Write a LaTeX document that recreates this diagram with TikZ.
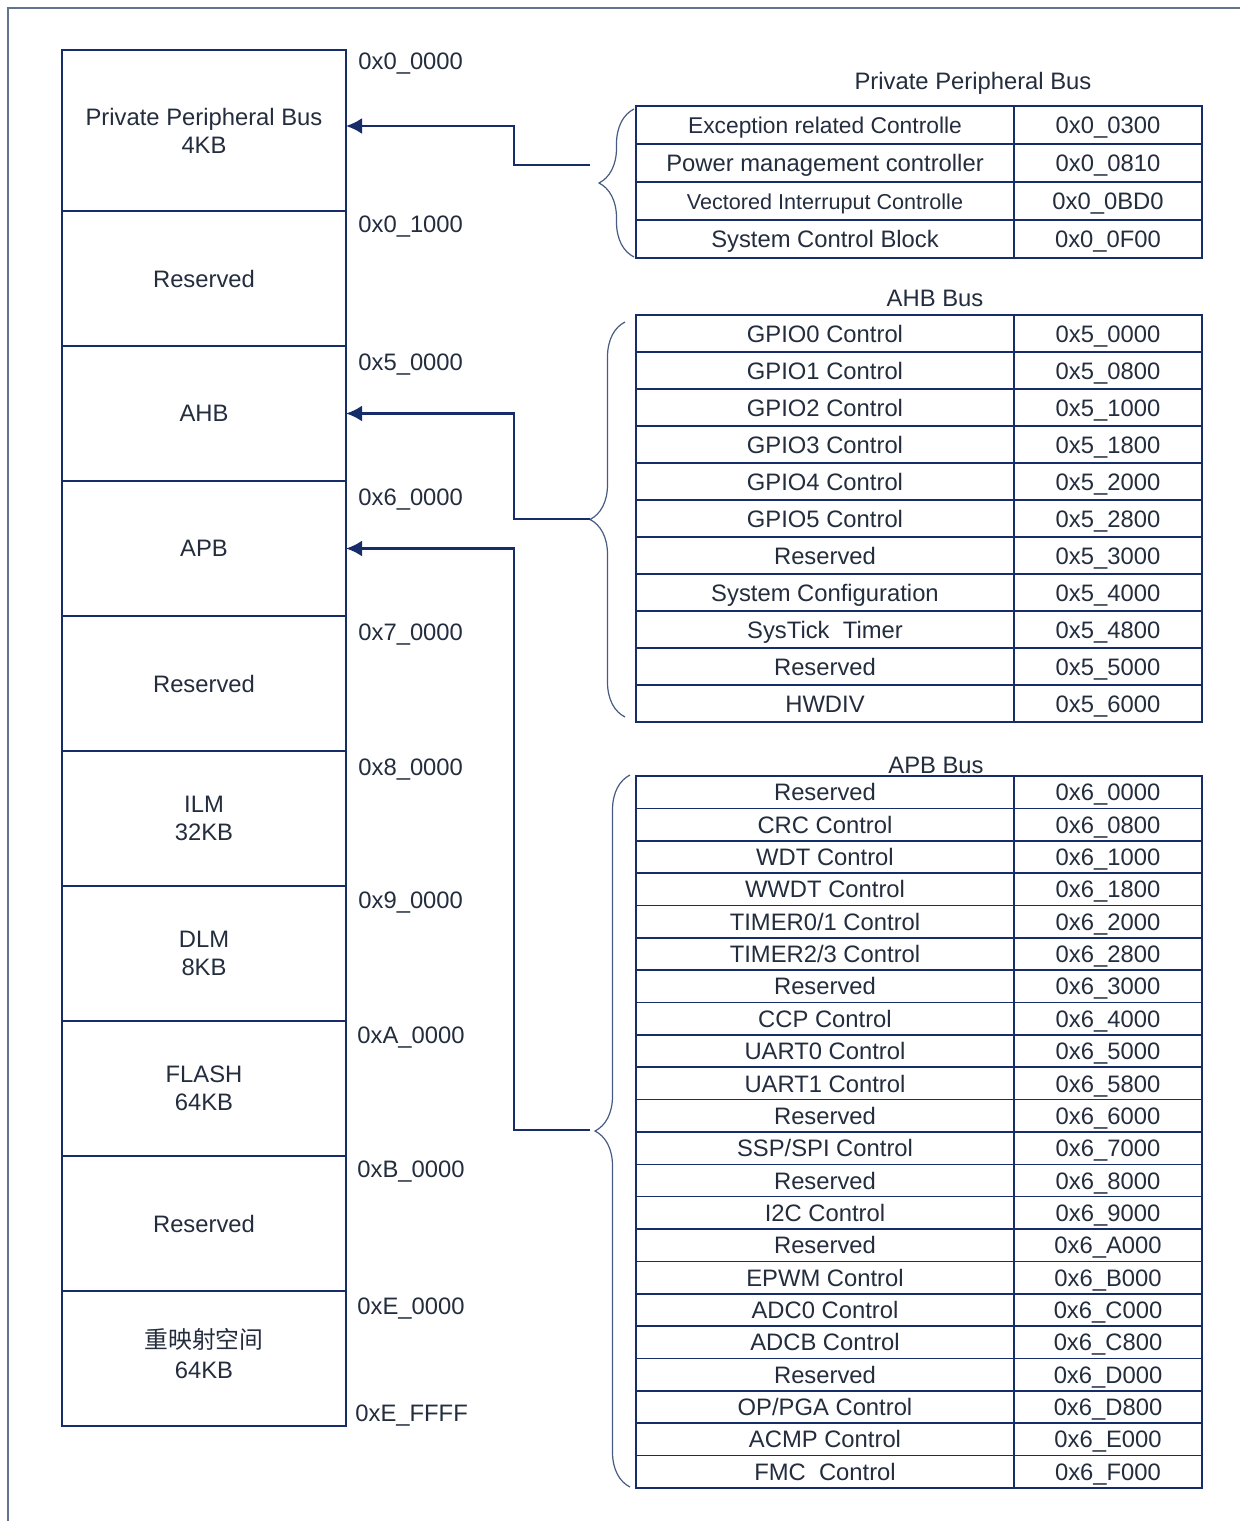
\documentclass[tikz,border=0pt]{standalone}
\usepackage{fontspec}
\setmainfont{Liberation Sans}
\newfontfamily\cjk{Noto Sans CJK SC}
\usetikzlibrary{arrows.meta,decorations.pathreplacing}
\definecolor{navyline}{RGB}{22,45,105}
\definecolor{inktext}{RGB}{35,45,62}
\definecolor{framegray}{RGB}{100,115,140}
\definecolor{bracegray}{RGB}{70,90,130}
\tikzstyle{membox} = [draw=navyline, line width=1pt, rectangle, minimum width=142pt, minimum height=67.5pt, align=center, text=inktext, inner sep=0pt, outer sep=0pt]
\tikzstyle{addr} = [anchor=west, text=inktext, inner sep=0pt, text height=8.6pt, text depth=0pt]
\tikzstyle{namecell} = [draw=navyline, line width=0.8pt, rectangle, minimum width=189pt, text=inktext, inner sep=0pt, outer sep=0pt, text height=8.6pt, text depth=0pt]
\tikzstyle{addrcell} = [namecell, minimum width=94pt]
\tikzstyle{bustitle} = [text=inktext, inner sep=0pt, text height=8.6pt, text depth=0pt]
\tikzstyle{busarrow} = [draw=navyline, line width=1.2pt, -{Latex[length=8pt,width=8pt]}]
\tikzstyle{busbrace} = [draw=bracegray, line width=0.6pt, decorate, decoration={brace, amplitude=17.5pt}]
\newcommand{\txt}{\fontsize{11.9}{14}\selectfont}
\newcommand{\smallcell}{\fontsize{10.8}{13}\selectfont}
\newcommand{\midcell}{\fontsize{11.4}{13}\selectfont}

\begin{document}
\begin{tikzpicture}[x=0.5pt, y=-0.5pt, every node/.style={font=\txt}]
\useasboundingbox (0,0) rectangle (1240,1521);
\draw[framegray, line width=0.6pt] (1240,8) -- (8,8) -- (8,1521);

% memory map
\node[membox, minimum height=80.5pt] (ppb) at (204,130.5) {Private Peripheral Bus\\4KB};
\node[membox] (res1) at (204,278.5) {Reserved};
\node[membox] (ahb) at (204,413.5) {AHB};
\node[membox] (apb) at (204,548.5) {APB};
\node[membox] (res2) at (204,683.5) {Reserved};
\node[membox] (ilm) at (204,818.5) {ILM\\32KB};
\node[membox] (dlm) at (204,953.5) {DLM\\8KB};
\node[membox] (flash) at (204,1088.5) {FLASH\\64KB};
\node[membox] (res3) at (204,1223.5) {Reserved};
\node[membox] (remap) at (204,1358.5) {{\cjk 重映射空间}\\[1pt]64KB\rule[-5pt]{0pt}{5pt}};

\foreach \lab/\x/\y [count=\i] in {0x0\_0000/358/61, 0x0\_1000/358/224, 0x5\_0000/358/362,
    0x6\_0000/358/497, 0x7\_0000/358/632, 0x8\_0000/358/767, 0x9\_0000/358/900,
    0xA\_0000/357/1035, 0xB\_0000/357/1169, 0xE\_0000/357/1306, 0xE\_FFFF/355/1413}
  \node[addr] (addr\i) at (\x,\y) {\lab};

% private peripheral bus
\node[bustitle] (ppbtitle) at (973,81) {Private Peripheral Bus};
\foreach \name/\addr [count=\i] in {\midcell Exception related Controlle/0x0\_0300,
    Power management controller/0x0\_0810, \smallcell Vectored Interruput Controlle/0x0\_0BD0,
    System Control Block/0x0\_0F00}
{
  \node[namecell, minimum height=19pt] (ppbn\i) at (825,87+38*\i) {\name};
  \node[addrcell, minimum height=19pt] (ppba\i) at (1108,87+38*\i) {\addr};
}
\draw[busbrace] (634,257) -- (634,109);

% AHB bus
\node[bustitle] (ahbtitle) at (935,298) {AHB Bus};
\foreach \name/\addr [count=\i] in {GPIO0 Control/0x5\_0000, GPIO1 Control/0x5\_0800,
    GPIO2 Control/0x5\_1000, GPIO3 Control/0x5\_1800, GPIO4 Control/0x5\_2000,
    GPIO5 Control/0x5\_2800, Reserved/0x5\_3000, System Configuration/0x5\_4000,
    SysTick\ \ Timer/0x5\_4800, Reserved/0x5\_5000, HWDIV/0x5\_6000}
{
  \node[namecell, minimum height=18.5pt] (ahbn\i) at (825,296.5+37*\i) {\name};
  \node[addrcell, minimum height=18.5pt] (ahba\i) at (1108,296.5+37*\i) {\addr};
}
\draw[busbrace] (625,717) -- (625,322);

% APB bus
\node[bustitle] (apbtitle) at (936,765) {APB Bus};
\foreach \name/\addr [count=\i] in {Reserved/0x6\_0000, CRC Control/0x6\_0800,
    WDT Control/0x6\_1000, WWDT Control/0x6\_1800, {TIMER0/1 Control}/0x6\_2000,
    {TIMER2/3 Control}/0x6\_2800, Reserved/0x6\_3000, CCP Control/0x6\_4000,
    UART0 Control/0x6\_5000, UART1 Control/0x6\_5800, Reserved/0x6\_6000,
    {SSP/SPI Control}/0x6\_7000, Reserved/0x6\_8000, I2C Control/0x6\_9000,
    Reserved/0x6\_A000, EPWM Control/0x6\_B000, ADC0 Control/0x6\_C000,
    ADCB Control/0x6\_C800, Reserved/0x6\_D000, {OP/PGA Control}/0x6\_D800,
    ACMP Control/0x6\_E000, FMC\ \ Control/0x6\_F000}
{
  \node[namecell, minimum height=16.18pt] (apbn\i) at (825,759.82+32.36*\i) {\name};
  \node[addrcell, minimum height=16.18pt] (apba\i) at (1108,759.82+32.36*\i) {\addr};
}
\draw[busbrace] (630,1487) -- (630,775);

% connectors
\coordinate (ppbend) at (590,165);
\coordinate (ahbtip) at (590,519);
\coordinate (apbtip) at (590,1130);
\draw[busarrow] (ppbend) -- ++(-76,0) |- ([yshift=2.25pt]ppb.east);
\draw[busarrow] (ahbtip) -- ++(-76,0) |- (ahb.east);
\draw[busarrow] (apbtip) -- ++(-76,0) |- (apb.east);
\end{tikzpicture}
\end{document}
